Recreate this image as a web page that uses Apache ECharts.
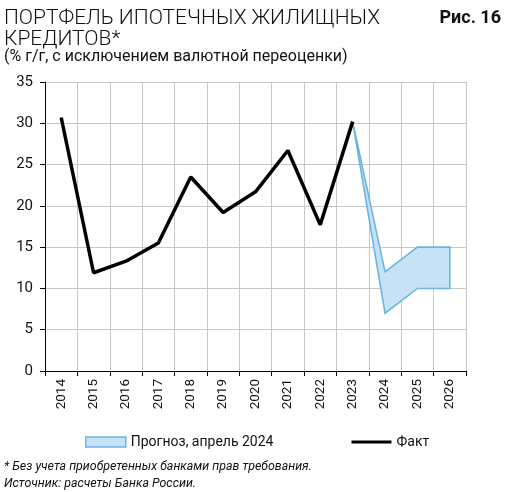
<!DOCTYPE html>
<html>
<head>
<meta charset="utf-8">
<script src="https://cdn.jsdelivr.net/npm/echarts@6/dist/echarts.min.js"></script>
<style>
  html, body { margin: 0; padding: 0; background: #fff; }
  #chart { width: 526px; height: 492px; }
</style>
</head>
<body>
<div id="chart"></div>
<script>
  // years on the x axis
  var years = ['2014', '2015', '2016', '2017', '2018', '2019', '2020',
               '2021', '2022', '2023', '2024', '2025', '2026'];
  // fact, % y/y
  var fact = [30.7, 11.9, 13.3, 15.5, 23.5, 19.2, 21.7, 26.7, 17.7, 30.2, null, null, null];
  // forecast range, April 2024
  var bandHigh = [null, null, null, null, null, null, null, null, null, 30.2, 12, 15, 15];
  var bandLow  = [null, null, null, null, null, null, null, null, null, 30.2, 7, 10, 10];

  var font = 'Roboto';
  var chart = echarts.init(document.getElementById('chart'), null, {renderer: 'canvas'});

  // one polygon: upper edge left->right, lower edge right->left
  function renderBand(params, api) {
    if (params.dataIndex !== 0) return;
    var pts = [];
    var i;
    for (i = 0; i < years.length; i++) {
      if (bandHigh[i] != null) pts.push(api.coord([i, bandHigh[i]]));
    }
    for (i = years.length - 1; i >= 0; i--) {
      if (bandLow[i] != null) pts.push(api.coord([i, bandLow[i]]));
    }
    return {
      type: 'polygon',
      shape: {points: pts},
      style: {fill: '#c6e3f5', stroke: '#6cb4e4', lineWidth: 1.6}
    };
  }

  var option = {
    animation: false,
    textStyle: {fontFamily: font},
    title: [
      {
        text: 'ПОРТФЕЛЬ ИПОТЕЧНЫХ ЖИЛИЩНЫХ\nКРЕДИТОВ*',
        left: -1, top: 3,
        textStyle: {fontSize: 21, fontWeight: 300, color: '#111', lineHeight: 21, fontFamily: font}
      },
      {
        text: '(% г/г, с исключением валютной переоценки)',
        left: -1, top: 44,
        textStyle: {fontSize: 16, fontWeight: 'normal', color: '#111', fontFamily: font}
      },
      {
        text: 'Рис. 16',
        right: 20, top: 4,
        textStyle: {fontSize: 18, fontWeight: 'bold', color: '#111', fontFamily: font}
      },
      {
        text: '* Без учета приобретенных банками прав требования.\nИсточник: расчеты Банка России.',
        left: -1, top: 453,
        textStyle: {fontSize: 12.4, fontStyle: 'italic', fontWeight: 'normal', color: '#111', lineHeight: 17, fontFamily: font}
      }
    ],
    legend: {
      bottom: 38, left: 80,
      itemWidth: 40, itemHeight: 10, itemGap: 78,
      textStyle: {fontSize: 14, color: '#111', fontFamily: font},
      data: [
        {name: 'Прогноз, апрель 2024', icon: 'rect',
         itemStyle: {color: '#c6e3f5', borderColor: '#6cb4e4', borderWidth: 1.5}},
        {name: 'Факт', icon: 'path://M0,0 L40,0 L40,3 L0,3 Z',
         itemStyle: {color: '#000'}}
      ]
    },
    grid: {left: 45, right: 60, top: 82, bottom: 121},
    xAxis: {
      type: 'category',
      data: years,
      boundaryGap: true,
      axisLine: {lineStyle: {color: '#000', width: 1}},
      axisTick: {show: true, length: 5, lineStyle: {color: '#000'}},
      axisLabel: {rotate: 90, fontSize: 13.5, color: '#111', margin: 8, fontFamily: font},
      splitLine: {show: true, lineStyle: {color: '#c8c8c8', width: 1}}
    },
    yAxis: {
      type: 'value',
      min: 0, max: 35, interval: 5,
      axisLine: {show: true, lineStyle: {color: '#000', width: 1}},
      axisTick: {show: true, length: 5, lineStyle: {color: '#000'}},
      axisLabel: {fontSize: 15, color: '#111', margin: 12, fontFamily: font},
      splitLine: {show: true, lineStyle: {color: '#c8c8c8', width: 1}}
    },
    series: [
      {
        name: 'Прогноз, апрель 2024',
        type: 'custom',
        renderItem: renderBand,
        data: bandHigh.map(function (v, i) { return [i, v]; }),
        itemStyle: {color: '#c6e3f5'},
        z: 2
      },
      {
        name: 'Факт',
        type: 'line',
        data: fact,
        symbol: 'none',
        lineStyle: {color: '#000', width: 3.5},
        itemStyle: {color: '#000'},
        z: 3
      }
    ]
  };
  chart.setOption(option);
</script>
</body>
</html>
